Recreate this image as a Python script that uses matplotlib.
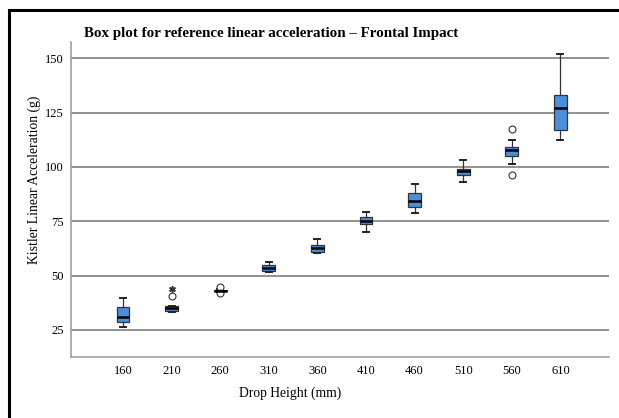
import matplotlib
matplotlib.use("Agg")
import matplotlib.pyplot as plt
from matplotlib.lines import Line2D

categories = ["160", "210", "260", "310", "360", "410", "460", "510", "560", "610"]
whislo = [26.1, 33.1, 42.6, 51.7, 60.4, 70.2, 78.8, 93.0, 101.4, 112.3]
q1     = [28.4, 33.9, 42.8, 52.1, 61.0, 73.6, 81.7, 96.1, 105.0, 116.9]
med    = [30.7, 35.0, 43.1, 53.4, 62.5, 75.2, 84.4, 98.1, 108.0, 126.9]
q3     = [35.3, 35.9, 43.5, 54.9, 63.9, 77.1, 87.8, 99.0, 109.1, 133.0]
whishi = [39.8, 35.9, 43.7, 56.4, 66.8, 79.2, 92.1, 103.1, 112.6, 151.8]
outliers = [[], [40.6], [44.5, 41.8], [], [], [], [], [], [117.4, 96.2], []]
extremes = [[], [44.0], [], [], [], [], [], [], [], []]

yticks = [25, 50, 75, 100, 125, 150]

plt.rcParams['font.family'] = ['Liberation Serif', 'DejaVu Serif']

fig = plt.figure(figsize=(6.19, 4.18), dpi=100)
ax = fig.add_axes([71/619, 1-357/418, (609-71)/619, (357-42)/418])

stats = []
for i, c in enumerate(categories):
    stats.append(dict(label=c, med=med[i], q1=q1[i], q3=q3[i],
                      whislo=whislo[i], whishi=whishi[i], fliers=outliers[i]))

pos = list(range(len(categories)))
ax.bxp(stats, positions=pos, widths=0.26, patch_artist=True,
       boxprops=dict(facecolor='#4a8fdc', edgecolor='#333333', linewidth=0.9),
       medianprops=dict(color='black', linewidth=1.8),
       whiskerprops=dict(color='#333333', linewidth=0.9),
       capprops=dict(color='#222222', linewidth=1.4),
       capwidths=0.12,
       flierprops=dict(marker='o', markersize=5, markerfacecolor='white',
                       markeredgecolor='#333333', markeredgewidth=0.8),
       zorder=3)

for i, ex in enumerate(extremes):
    for v in ex:
        ax.plot([pos[i]], [v], marker='$*$', color='#333333', markersize=4,
                linestyle='none', zorder=4)

ax.set_xlim(-1.07, 10.0)
ax.set_ylim(12.5, 157.5)
ax.set_yticks(yticks)
ax.set_xticks(pos)
ax.set_xticklabels(categories)
ax.yaxis.grid(True, color='#7f7f7f', linewidth=1.2, zorder=0)
ax.set_axisbelow(True)
for s in ['top', 'right']:
    ax.spines[s].set_visible(False)
for s in ['left', 'bottom']:
    ax.spines[s].set_color('#a0a0a0')
    ax.spines[s].set_linewidth(1.2)
ax.tick_params(axis='both', length=0, labelsize=9, colors='black', pad=5)
ax.tick_params(axis='x', pad=6)

ax.set_ylabel('Kistler Linear Acceleration (g)', fontsize=9.8, va='center')
ax.yaxis.set_label_coords((34-71)/538, (357-180)/315)
ax.set_xlabel('Drop Height (mm)', fontsize=9.8, va='center')
ax.xaxis.set_label_coords((290-71)/538, (357-393)/315)

fig.text(271/619, 1-34/418, 'Box plot for reference linear acceleration \u2013 Frontal Impact',
         ha='center', va='center', fontsize=10.8, fontweight='bold')

fig.add_artist(Line2D([9/619, 9/619], [0, 1-10/418], color='black', linewidth=2.2,
                      transform=fig.transFigure))
fig.add_artist(Line2D([9/619, 1], [1-10/418, 1-10/418], color='black', linewidth=2.2,
                      transform=fig.transFigure))

fig.savefig('out.png', dpi=100)
